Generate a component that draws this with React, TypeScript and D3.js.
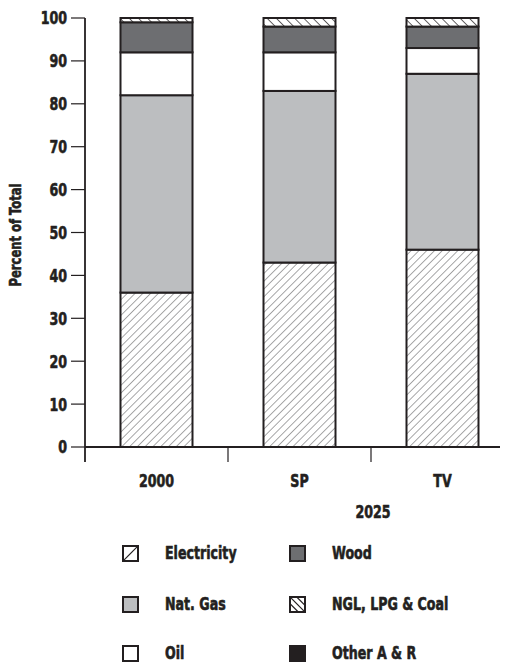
import React from "react";
import * as d3 from "d3";

const categories = ["2000", "SP", "TV"];
const seriesNames = ["Electricity", "Nat. Gas", "Oil", "Wood", "NGL, LPG & Coal", "Other A & R"];
const electricity = [36, 43, 46];
const natGas = [46, 40, 41];
const oil = [10, 9, 6];
const wood = [7, 6, 5];
const nglLpgCoal = [1, 2, 2];
const otherAR = [0, 0, 0];
const yTicks = [0, 10, 20, 30, 40, 50, 60, 70, 80, 90, 100];
const groupLabel = "2025";
const yTitle = "Percent of Total";

const FONT = "'DejaVu Sans Condensed', 'DejaVu Sans', sans-serif";
const INK = "#231f20";
const SX = 0.78;

const fills = ["url(#hatchElec)", "#bcbec0", "#ffffff", "#6d6e71", "url(#hatchNgl)", INK];
const legendFills = ["url(#legElec)", "#bcbec0", "#ffffff", "#6d6e71", "url(#legNgl)", INK];

function T({ x, y, anchor = "start", size = 18, dy = "0", rotate = 0, children }: any) {
  const tr = rotate
    ? `translate(${x},${y}) rotate(${rotate}) scale(${SX},1)`
    : `translate(${x},${y}) scale(${SX},1)`;
  return (
    <text transform={tr} textAnchor={anchor} fontSize={size} dy={dy}
      stroke={INK} strokeWidth={0.6} strokeLinejoin="round">
      {children}
    </text>
  );
}

export default function App() {
  const W = 511, H = 666;
  const rows = categories.map((c, i) => ({
    cat: c,
    [seriesNames[0]]: electricity[i],
    [seriesNames[1]]: natGas[i],
    [seriesNames[2]]: oil[i],
    [seriesNames[3]]: wood[i],
    [seriesNames[4]]: nglLpgCoal[i],
    [seriesNames[5]]: otherAR[i],
  }));
  const stack = d3.stack<any>().keys(seriesNames)(rows);
  const y = d3.scaleLinear().domain([0, 100]).range([447, 18]);
  const x = d3.scaleBand().domain(categories).range([85, 514]).paddingInner(0).paddingOuter(0);
  const barW = 72;

  const legendCols = [123, 290];
  const legendRows = [553, 604, 653];

  return (
    <svg width={W} height={H} style={{ position: "absolute", left: 0, top: 0, background: "#fff" }}>
      <defs>
        <pattern id="hatchElec" patternUnits="userSpaceOnUse" width="5.5" height="5.5" patternTransform="rotate(45)">
          <rect width="5.5" height="5.5" fill="#fff" />
          <line x1="0" y1="0" x2="0" y2="5.5" stroke="#3d3d3f" strokeWidth="0.9" />
        </pattern>
        <pattern id="hatchNgl" patternUnits="userSpaceOnUse" width="6.5" height="6.5" patternTransform="rotate(-45)">
          <rect width="6.5" height="6.5" fill="#fff" />
          <line x1="0" y1="0" x2="0" y2="6.5" stroke="#231f20" strokeWidth="1.4" />
        </pattern>
        <pattern id="legElec" patternUnits="objectBoundingBox" patternContentUnits="objectBoundingBox" width="1" height="1">
          <rect width="1" height="1" fill="#fff" />
          <line x1="0" y1="1" x2="1" y2="0" stroke="#231f20" strokeWidth="0.08" />
        </pattern>
        <pattern id="legNgl" patternUnits="objectBoundingBox" patternContentUnits="objectBoundingBox" width="1" height="1">
          <rect width="1" height="1" fill="#fff" />
          <line x1="0" y1="0" x2="1" y2="1" stroke="#231f20" strokeWidth="0.08" />
          <line x1="0.45" y1="0" x2="1" y2="0.55" stroke="#231f20" strokeWidth="0.08" />
          <line x1="0" y1="0.45" x2="0.55" y2="1" stroke="#231f20" strokeWidth="0.08" />
        </pattern>
      </defs>
      <g fontFamily={FONT} fontWeight="bold" fill={INK}>
        {/* y axis */}
        <line x1={85} x2={85} y1={y(100)} y2={462} stroke={INK} strokeWidth={1.8} />
        {yTicks.map((t) => (
          <g key={t}>
            <line x1={71} x2={85} y1={y(t)} y2={y(t)} stroke={INK} strokeWidth={1.2} />
            <T x={67} y={y(t)} dy="0.36em" anchor="end">{t}</T>
          </g>
        ))}
        <T x={21} y={235} rotate={-90} anchor="middle" size={16.5}>{yTitle}</T>

        {/* bars */}
        {stack.map((s, si) =>
          s.map((d, i) => {
            const cat = categories[i];
            const cx = (x(cat) as number) + x.bandwidth() / 2;
            const h = y(d[0]) - y(d[1]);
            if (h <= 0) return null;
            return (
              <rect key={`${si}-${i}`} x={cx - barW / 2} y={y(d[1])} width={barW} height={h}
                fill={fills[si]} stroke={INK} strokeWidth={2} />
            );
          })
        )}

        {/* x axis */}
        <line x1={85} x2={500} y1={y(0)} y2={y(0)} stroke={INK} strokeWidth={1.8} />
        {categories.slice(1).map((c) => (
          <line key={c} x1={x(c) as number} x2={x(c) as number} y1={y(0)} y2={462} stroke={INK} strokeWidth={1.2} />
        ))}
        {categories.map((c) => (
          <T key={c} x={(x(c) as number) + x.bandwidth() / 2} y={487} anchor="middle">{c}</T>
        ))}
        <T x={373} y={518} anchor="middle">{groupLabel}</T>

        {/* legend */}
        {seriesNames.map((n, i) => {
          const col = Math.floor(i / 3);
          const row = i % 3;
          const bx = legendCols[col];
          const by = legendRows[row];
          return (
            <g key={n}>
              <rect x={bx} y={by - 7} width={15} height={15} fill={legendFills[i]} stroke={INK} strokeWidth={2} />
              <T x={bx + 42} y={by} dy="0.36em">{n}</T>
            </g>
          );
        })}
      </g>
    </svg>
  );
}
